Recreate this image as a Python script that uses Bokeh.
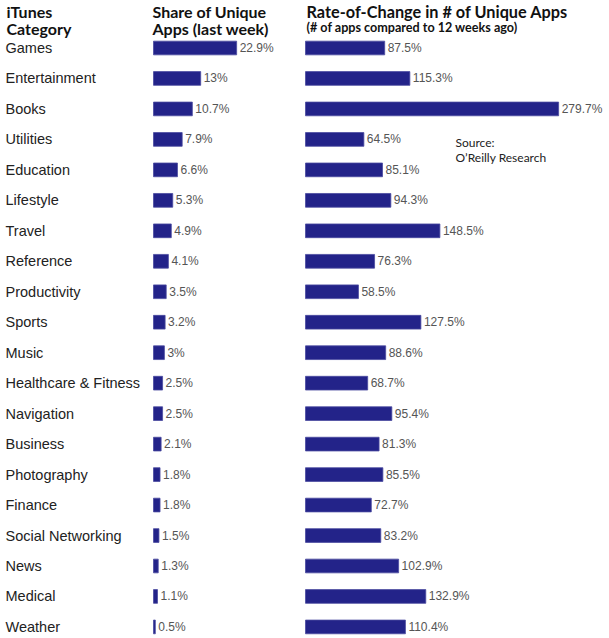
from bokeh.plotting import figure
from bokeh.models import Range1d, Label, ColumnDataSource
from bokeh.embed import file_html
from bokeh.resources import INLINE
from bokeh.core.properties import value

categories = ["Games", "Entertainment", "Books", "Utilities", "Education", "Lifestyle",
              "Travel", "Reference", "Productivity", "Sports", "Music",
              "Healthcare & Fitness", "Navigation", "Business", "Photography",
              "Finance", "Social Networking", "News", "Medical", "Weather"]
share = [22.9, 13, 10.7, 7.9, 6.6, 5.3, 4.9, 4.1, 3.5, 3.2, 3, 2.5, 2.5, 2.1,
         1.8, 1.8, 1.5, 1.3, 1.1, 0.5]
rate = [87.5, 115.3, 279.7, 64.5, 85.1, 94.3, 148.5, 76.3, 58.5, 127.5, 88.6,
        68.7, 95.4, 81.3, 85.5, 72.7, 83.2, 102.9, 132.9, 110.4]

W, H = 609, 638
ROW0, ROWH = 47.5, 30.47
BAR = "#232389"

def fmt(v):
    return f"{v:g}%"

idx = list(range(len(categories)))
src = ColumnDataSource(dict(
    y=idx, cat=categories, share=share, rate=rate,
    share_lbl=[fmt(v) for v in share], rate_lbl=[fmt(v) for v in rate],
    zero=[0] * len(idx), lx=[5] * len(idx),
))

p = figure(width=W, height=H, output_backend="svg", toolbar_location=None,
           min_border=0, min_border_left=0, min_border_right=0,
           min_border_top=0, min_border_bottom=0,
           x_range=Range1d(0, W),
           y_range=Range1d((H - ROW0) / ROWH, -ROW0 / ROWH))
p.axis.visible = False
p.grid.visible = False
p.outline_line_color = None
p.background_fill_color = "white"

# share scale: 0 at px 153, 3.63 px per unit; rate scale: 0 at px 305, 0.905 px per unit
s_px, s0 = 3.63, 153
r_px, r0 = 0.905, 305
p.extra_x_ranges = {
    "share": Range1d(-s0 / s_px, (W - s0) / s_px),
    "rate": Range1d(-r0 / r_px, (W - r0) / r_px),
}

p.hbar(y="y", left="zero", right="share", height=0.45, source=src,
       x_range_name="share", fill_color=BAR, line_color="#4a4aa0", line_width=0.8)
p.hbar(y="y", left="zero", right="rate", height=0.45, source=src,
       x_range_name="rate", fill_color=BAR, line_color="#4a4aa0", line_width=0.8)

p.text(x="share", y="y", text="share_lbl", source=src, x_range_name="share",
       x_offset=3, text_baseline="middle", text_align="left",
       text_font=value("Liberation Sans"), text_font_size="12px", text_color="#555555")
p.text(x="rate", y="y", text="rate_lbl", source=src, x_range_name="rate",
       x_offset=3, text_baseline="middle", text_align="left",
       text_font=value("Liberation Sans"), text_font_size="12px", text_color="#555555")
p.text(x="lx", y="y", text="cat", source=src,
       text_baseline="middle", text_align="left",
       text_font=value("Liberation Sans"), text_font_size="14.5px", text_color="#222222")

def lab(x, ytop, txt, size="16px", bold=True, color="#111111"):
    p.add_layout(Label(x=x, y=H - ytop, x_units="screen", y_units="screen", text=txt,
                       text_font="Lato", text_font_size=size,
                       text_font_style="bold" if bold else "normal",
                       text_color=color, text_baseline="middle", text_align="left"))

lab(6, 11, "iTunes")
lab(6, 28, "Category")
lab(152, 11, "Share of Unique")
lab(152, 28, "Apps (last week)")
lab(306, 11, "Rate-of-Change in # of Unique Apps", size="16.3px")
lab(306, 27, "(# of apps compared to 12 weeks ago)", size="12.6px")
lab(455, 142, "Source:", size="12px", bold=False, color="#222222")
lab(455, 157, "O\u2019Reilly Research", size="12px", bold=False, color="#222222")

open("out.html", "w").write(file_html(p, INLINE))
